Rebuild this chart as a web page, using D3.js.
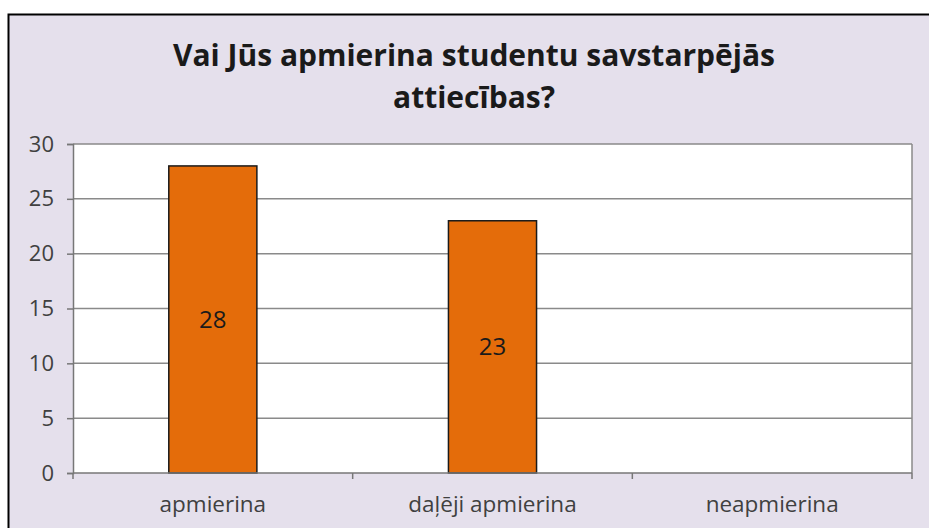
<!DOCTYPE html>
<html lang="lv">
<head>
<meta charset="UTF-8">
<script src="https://d3js.org/d3.v7.min.js"></script>
<title>Studentu savstarpējās attiecības</title>
<style>
body { margin: 0; background: #fff; }
svg text { font-family: "Open Sans", sans-serif; }
</style>
</head>
<body>
<script>

var categories = ["apmierina", "daļēji apmierina", "neapmierina"];
var values = [28, 23, 0];
var yTicks = [0, 5, 10, 15, 20, 25, 30];
var titleLines = ["Vai Jūs apmierina studentu savstarpējās", "attiecības?"];

var width = 929,
    height = 528;

var svg = d3.select("body").append("svg")
    .attr("width", width)
    .attr("height", height);

// chart background with border (cut off at right and bottom)
svg.append("rect")
    .attr("x", 8.5).attr("y", 14.5)
    .attr("width", 940).attr("height", 540)
    .attr("fill", "#e5e0ec")
    .attr("stroke", "#000")
    .attr("stroke-width", 2);

var plot = { left: 73, top: 144, right: 912, bottom: 473 };

var x = d3.scaleBand()
    .domain(categories)
    .range([plot.left, plot.right])
    .paddingInner(0.685)
    .paddingOuter(0.3425);

var y = d3.scaleLinear()
    .domain([0, 30])
    .range([plot.bottom, plot.top]);

svg.append("rect")
    .attr("x", plot.left).attr("y", plot.top)
    .attr("width", plot.right - plot.left)
    .attr("height", plot.bottom - plot.top)
    .attr("fill", "#fff");

// gridlines
svg.append("g")
  .selectAll("line")
    .data(yTicks.filter(function(d) { return d > 0; }))
  .enter().append("line")
    .attr("x1", plot.left).attr("x2", plot.right)
    .attr("y1", function(d) { return y(d); })
    .attr("y2", function(d) { return y(d); })
    .attr("stroke", "#8a8a8a")
    .attr("stroke-width", 1.5);

// right border of plot
svg.append("line")
    .attr("x1", plot.right).attr("x2", plot.right)
    .attr("y1", plot.top).attr("y2", plot.bottom)
    .attr("stroke", "#8a8a8a")
    .attr("stroke-width", 1.5);

// bars
svg.append("g")
  .selectAll("rect")
    .data(values)
  .enter().append("rect")
    .attr("x", function(d, i) { return x(categories[i]); })
    .attr("y", function(d) { return y(d); })
    .attr("width", x.bandwidth())
    .attr("height", function(d) { return plot.bottom - y(d); })
    .attr("fill", "#e46c0a")
    .attr("stroke", "#1a1a1a")
    .attr("stroke-width", 1.5)
    .style("display", function(d) { return d > 0 ? null : "none"; });

// value labels
svg.append("g")
  .selectAll("text")
    .data(values.filter(function(d) { return d > 0; }))
  .enter().append("text")
    .attr("x", function(d, i) { return x(categories[i]) + x.bandwidth() / 2; })
    .attr("y", function(d) { return (y(d) + plot.bottom) / 2; })
    .attr("dy", "0.35em")
    .attr("text-anchor", "middle")
    .attr("fill", "#1a1a1a")
    .style("font-size", "24px")
    .text(function(d) { return d; });

// y axis
var yAxis = d3.axisLeft(y)
    .tickValues(yTicks)
    .tickSize(6)
    .tickPadding(13);

var gy = svg.append("g")
    .attr("transform", "translate(" + plot.left + ",0)")
    .call(yAxis);
gy.attr("font-family", null).attr("font-size", null);
gy.select(".domain").attr("stroke", "#777").attr("stroke-width", 1.5);
gy.selectAll(".tick line").attr("stroke", "#777").attr("stroke-width", 1.5);
gy.selectAll(".tick text")
    .attr("fill", "#404040")
    .style("font-size", "22px");

// x axis: ticks at category boundaries
var gx = svg.append("g");
gx.append("line")
    .attr("x1", plot.left).attr("x2", plot.right)
    .attr("y1", plot.bottom).attr("y2", plot.bottom)
    .attr("stroke", "#777").attr("stroke-width", 1.5);

var step = x.step();
var bounds = categories.map(function(c) { return x(c) - x.paddingInner() * step / 2; })
    .concat([plot.right]);
gx.selectAll(".bt")
    .data(bounds)
  .enter().append("line")
    .attr("class", "bt")
    .attr("x1", function(d) { return d; }).attr("x2", function(d) { return d; })
    .attr("y1", plot.bottom).attr("y2", plot.bottom + 6)
    .attr("stroke", "#777").attr("stroke-width", 1.5);

gx.selectAll("text")
    .data(categories)
  .enter().append("text")
    .attr("x", function(d) { return x(d) + x.bandwidth() / 2; })
    .attr("y", 504)
    .attr("dy", "0.35em")
    .attr("text-anchor", "middle")
    .attr("fill", "#404040")
    .style("font-size", "22.5px")
    .text(function(d) { return d; });

// title
svg.append("g")
  .selectAll("text")
    .data(titleLines)
  .enter().append("text")
    .attr("x", 474)
    .attr("y", function(d, i) { return 55 + i * 42; })
    .attr("dy", "0.35em")
    .attr("text-anchor", "middle")
    .attr("fill", "#1a1a1a")
    .style("font-size", "30px")
    .style("font-weight", "bold")
    .text(function(d) { return d; });

</script>
</body>
</html>
